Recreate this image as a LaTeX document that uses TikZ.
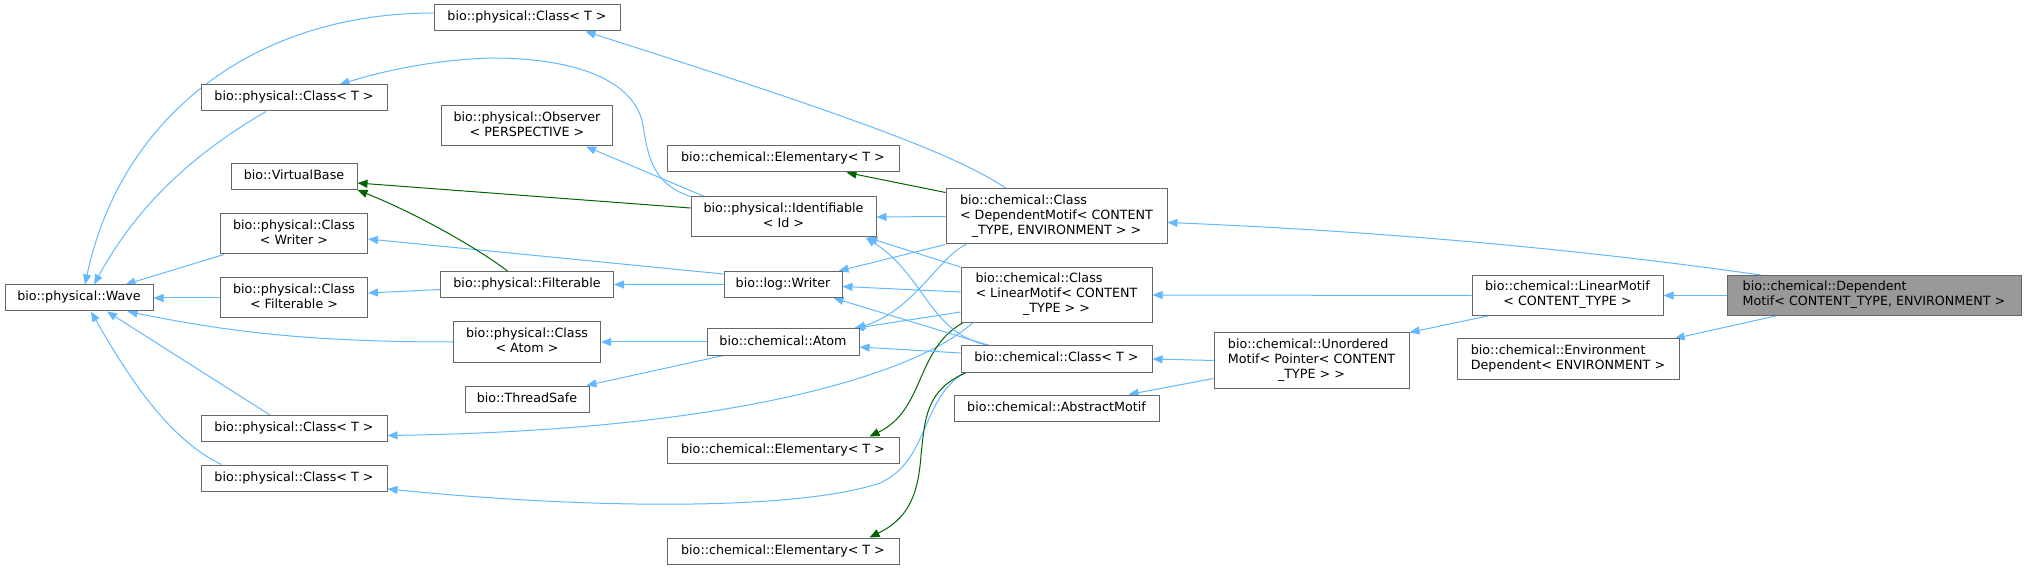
\documentclass[tikz,border=0pt]{standalone}
\usepackage{fontspec}
\setmainfont{DejaVu Sans}
\usepackage{tikz}
\usetikzlibrary{arrows.meta}
\pgfdeclarelayer{bg}
\pgfsetlayers{bg,main}
\definecolor{edgeblue}{HTML}{63B8FF}
\definecolor{edgegreen}{HTML}{006400}
\definecolor{boxline}{HTML}{666666}
\definecolor{boxfill}{HTML}{999999}
\newcommand{\dox}{\fontsize{12.7}{15}\selectfont}
\newcommand{\lft}[1]{\multicolumn{1}{@{}l@{}}{#1}}
\newcommand{\lbl}[1]{\begin{tabular}{@{}c@{}}#1\end{tabular}}

\begin{document}
\begin{tikzpicture}[x=1pt, y=-1pt,
    cls/.style={draw=boxline, fill=white, line width=1pt, inner sep=0pt, font=\dox},
    h1/.style={minimum height=26pt},
    h2/.style={minimum height=40pt},
    h3/.style={minimum height=55pt},
    inh/.style={draw=edgeblue, line width=1pt, -{Triangle[length=10pt,width=8pt]}},
    use/.style={draw=edgegreen, line width=1pt, -{Triangle[length=10pt,width=8pt]}}]
  \useasboundingbox (0,0) rectangle (2027,569);

  % rank 1 and 2
  \node[cls, h1, minimum width=148pt] (wave) at (79,298) {\lbl{bio::physical::Wave}};
  \node[cls, h1, minimum width=186pt] (pcB) at (294,98) {\lbl{bio::physical::Class< T >}};
  \node[cls, h1, minimum width=126pt] (vbase) at (294,176.5) {\lbl{bio::VirtualBase}};
  \node[cls, h2, minimum width=147pt] (pcWriter) at (294,234) {\lbl{\lft{bio::physical::Class}\\< Writer >}};
  \node[cls, h2, minimum width=147pt] (pcFilt) at (294,298) {\lbl{\lft{bio::physical::Class}\\< Filterable >}};
  \node[cls, h1, minimum width=186pt] (pcC) at (294,428.5) {\lbl{bio::physical::Class< T >}};
  \node[cls, h1, minimum width=186pt] (pcD) at (294,478) {\lbl{bio::physical::Class< T >}};

  % rank 3
  \node[cls, h1, minimum width=186pt] (pcA) at (527,18) {\lbl{bio::physical::Class< T >}};
  \node[cls, h2, minimum width=171pt] (observer) at (527,126) {\lbl{\lft{bio::physical::Observer}\\< PERSPECTIVE >}};
  \node[cls, h1, minimum width=173pt] (filterable) at (527,284.5) {\lbl{bio::physical::Filterable}};
  \node[cls, h2, minimum width=147pt] (pcAtom) at (527,342) {\lbl{\lft{bio::physical::Class}\\< Atom >}};
  \node[cls, h1, minimum width=124pt] (threadsafe) at (527,399) {\lbl{bio::ThreadSafe}};

  % rank 4
  \node[cls, h1, minimum width=232pt] (elemA) at (783,159) {\lbl{bio::chemical::Elementary< T >}};
  \node[cls, h2, minimum width=185pt] (ident) at (783.5,217) {\lbl{\lft{bio::physical::Identifiable}\\< Id >}};
  \node[cls, h1, minimum width=118pt] (logWriter) at (783,284.5) {\lbl{bio::log::Writer}};
  \node[cls, h1, minimum width=152pt] (atom) at (783,342) {\lbl{bio::chemical::Atom}};
  \node[cls, h1, minimum width=232pt] (elemB) at (783,450) {\lbl{bio::chemical::Elementary< T >}};
  \node[cls, h1, minimum width=232pt] (elemC) at (783,551) {\lbl{bio::chemical::Elementary< T >}};

  % rank 5
  \node[cls, h3, minimum width=221pt] (ccDep) at (1056.5,216.5)
    {\lbl{\lft{bio::chemical::Class}\\\lft{< DependentMotif< CONTENT}\\\_TYPE, ENVIRONMENT > >}};
  \node[cls, h3, minimum width=191pt] (ccLin) at (1056.5,295)
    {\lbl{\lft{bio::chemical::Class}\\\lft{< LinearMotif< CONTENT}\\\_TYPE > >}};
  \node[cls, h1, minimum width=191pt] (ccT) at (1056.5,359) {\lbl{bio::chemical::Class< T >}};
  \node[cls, h1, minimum width=205pt] (abstract) at (1056.5,408) {\lbl{bio::chemical::AbstractMotif}};

  % rank 6 to 8
  \node[cls, h3, minimum width=195pt] (unordered) at (1311.5,360.5)
    {\lbl{\lft{bio::chemical::Unordered}\\\lft{Motif< Pointer< CONTENT}\\\_TYPE > >}};
  \node[cls, h2, minimum width=191pt] (linMotif) at (1567.5,295.5)
    {\lbl{\lft{bio::chemical::LinearMotif}\\< CONTENT\_TYPE >}};
  \node[cls, h2, minimum width=222pt] (envDep) at (1568,359)
    {\lbl{\lft{bio::chemical::Environment}\\\lft{Dependent< ENVIRONMENT >}}};
  \node[cls, h2, minimum width=294pt, fill=boxfill] (depMotif) at (1874,295.5)
    {\lbl{\lft{bio::chemical::Dependent}\\\lft{Motif< CONTENT\_TYPE, ENVIRONMENT >}}};

  \begin{pgfonlayer}{bg}
    % DependentMotif
    \draw[inh] (depMotif.west) -- (linMotif.east);
    \draw[inh] ([xshift=49pt]depMotif.south west) -- ([xshift=-5pt]envDep.north east);
    \draw[inh] ([xshift=34pt]depMotif.north west) .. controls (1600,252) and (1400,232) .. ([yshift=-6pt]ccDep.east);
    % LinearMotif, Unordered
    \draw[inh] (linMotif.west) -- (ccLin.east);
    \draw[inh] ([xshift=16pt]linMotif.south west) -- (unordered.north east);
    \draw[inh] (unordered.west) -- (ccT.east);
    \draw[inh] ([yshift=-18pt]unordered.west) -- ([xshift=-31pt]abstract.north east);
    % Class< DependentMotif >
    \draw[inh] (ccDep.west) -- (ident.east);
    \draw[use] ([yshift=-4pt]ccDep.north west) -- ([xshift=-53pt]elemA.south east);
    \draw[inh] ([xshift=61pt]ccDep.north west) .. controls (960,158) and (880,125) .. ([xshift=-35pt]pcA.south east);
    \draw[inh] (ccDep.south west) -- ([xshift=-4pt]logWriter.north east);
    \draw[inh] ([xshift=21pt]ccDep.south west) .. controls (940,255) and (915,310) .. ([xshift=-4pt]atom.north east);
    % Class< LinearMotif >
    \draw[inh] (ccLin.north west) -- ([xshift=-9pt]ident.south east);
    \draw[inh] ([yshift=3pt]ccLin.west) -- ([yshift=-2pt]logWriter.east);
    \draw[inh] ([yshift=-17pt]ccLin.west) -- ([xshift=-6pt]atom.north east);
    \draw[inh] ([xshift=12pt]ccLin.south west) .. controls (920,370) and (750,430) .. ([yshift=-7pt]pcC.east);
    \draw[use] ([xshift=2pt]ccLin.south west) .. controls (915,350) and (925,410) .. ([xshift=-30pt]elemB.north east);
    % chemical::Class< T >
    \draw[inh] ([xshift=29pt]ccT.north west) .. controls (930,335) and (925,275) .. ([xshift=-11pt]ident.south east);
    \draw[inh] ([xshift=29pt]ccT.north west) -- ([xshift=-9pt]logWriter.south east);
    \draw[inh] ([yshift=6pt]ccT.west) -- ([yshift=-5pt]atom.east);
    \draw[inh] ([xshift=4pt]ccT.south west) .. controls (920,400) and (930,460) .. (880,483)
      .. controls (800,510) and (600,510) .. ([yshift=-11pt]pcD.east);
    \draw[use] ([xshift=6pt]ccT.south west) .. controls (925,390) and (925,420) .. (921,455)
      .. controls (918,500) and (905,520) .. ([xshift=-30pt]elemC.north east);
    % Atom, Writer, Identifiable
    \draw[inh] (atom.west) -- (pcAtom.east);
    \draw[inh] ([xshift=17pt]atom.south west) -- ([xshift=-3pt]threadsafe.north east);
    \draw[inh] (logWriter.west) -- (filterable.east);
    \draw[inh] ([yshift=-3pt]logWriter.north west) -- ([yshift=-5pt]pcWriter.east);
    \draw[use] ([yshift=9pt]ident.west) -- ([yshift=-6.5pt]vbase.east);
    \draw[inh] ([xshift=14pt]ident.north west) -- ([xshift=-27pt]observer.south east);
    \draw[inh] (ident.north west) .. controls (655,185) and (648,160) .. (643,125)
      .. controls (636,85) and (585,58) .. (491,58) .. controls (430,60) and (380,72) .. ([xshift=-48pt]pcB.north east);
    % Filterable
    \draw[inh] ([yshift=-5pt]filterable.west) -- ([yshift=5pt]pcFilt.east);
    \draw[use] ([xshift=-19.5pt]filterable.north) .. controls (480,250) and (420,215) .. (vbase.south east);
    % physical::Class -> Wave
    \draw[inh] ([yshift=5pt]pcA.west) .. controls (250,13) and (120,120) .. ([xshift=6pt]wave.north);
    \draw[inh] ([xshift=-28pt]pcB.south) .. controls (200,150) and (140,200) .. ([xshift=15pt]wave.north);
    \draw[inh] ([xshift=4pt]pcWriter.south west) -- ([xshift=-28pt]wave.north east);
    \draw[inh] (pcFilt.west) -- (wave.east);
    \draw[inh] (pcAtom.west) .. controls (300,342) and (220,330) .. ([xshift=-26pt]wave.south east);
    \draw[inh] ([xshift=-24pt]pcC.north) -- ([xshift=28pt]wave.south);
    \draw[inh] ([xshift=21pt]pcD.north west) .. controls (170,440) and (130,380) .. ([xshift=12pt]wave.south);
  \end{pgfonlayer}
\end{tikzpicture}
\end{document}
